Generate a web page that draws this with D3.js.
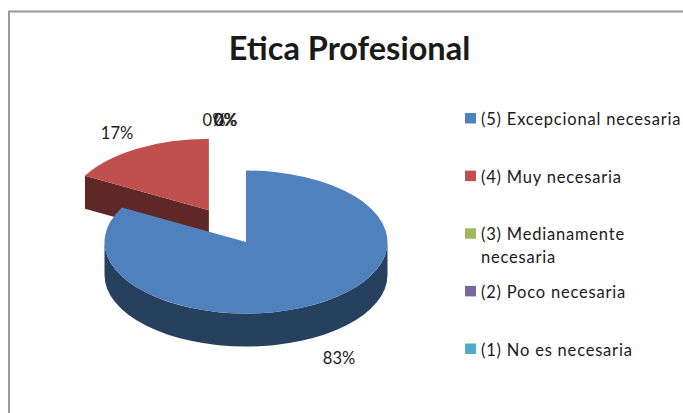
<!DOCTYPE html>
<html>
<head>
<meta charset="utf-8">
<script src="https://cdnjs.cloudflare.com/ajax/libs/d3/7.8.5/d3.min.js"></script>
<style>
html,body{margin:0;padding:0;background:#fff;}
svg{display:block;}
text{font-family:Lato,sans-serif;fill:#1a1a1a;}
</style>
</head>
<body>
<svg id="chart" width="683" height="413"></svg>
<script>
const titleText = "Etica Profesional";
const categories = ["(5) Excepcional necesaria", "(4) Muy necesaria", "(3) Medianamente necesaria", "(2) Poco necesaria", "(1) No es necesaria"];
const legendLines = [["(5) Excepcional necesaria"], ["(4) Muy necesaria"], ["(3) Medianamente", "necesaria"], ["(2) Poco necesaria"], ["(1) No es necesaria"]];
const values = [83, 17, 0, 0, 0];
const faceColors = ["#4f81bd", "#c0504d", "#9bbb59", "#8064a2", "#4bacc6"];
const wallColors = ["#274060", "#5f2725", "#4d5d2c", "#403151", "#255663"];
const explode = [0, 0.515, 0, 0, 0];
const labelPos = [[339, 364], [117, 139], [214, 126], [225, 126], [226, 126]];

const svg = d3.select("#chart");

// Chart frame: only the top and left edges fall inside the page
svg.append("path")
  .attr("d", "M683,11.5H9V413")
  .attr("fill", "none")
  .attr("stroke", "#9a9a9a")
  .attr("stroke-width", 2);

svg.append("text")
  .attr("x", 349.5).attr("y", 60)
  .attr("text-anchor", "middle")
  .attr("font-size", 32.5)
  .attr("font-weight", 700)
  .text(titleText);

// Tilted pie: circular geometry inside a group squashed vertically
const cx = 246, cy = 242, rx = 141.5, ry = 71.5, depth = 33;
const tilt = ry / rx;
const pieGen = d3.pie().sort(null)(values);
const arcGen = d3.arc().innerRadius(0).outerRadius(rx);
const pieRoot = svg.append("g").attr("transform", `translate(${cx},${cy}) scale(1,${tilt})`);
const wallDepth = depth / tilt;
const toPath = a => a - Math.PI / 2;

function outerWall(a0, a1) {
  const p = d3.path();
  p.arc(0, 0, rx, toPath(a0), toPath(a1));
  p.arc(0, wallDepth, rx, toPath(a1), toPath(a0), true);
  p.closePath();
  return p.toString();
}
function cutWall(a) {
  const x = rx * Math.sin(a), y = -rx * Math.cos(a);
  const p = d3.path();
  p.moveTo(0, 0);
  p.lineTo(x, y);
  p.lineTo(x, y + wallDepth);
  p.lineTo(0, wallDepth);
  p.closePath();
  return p.toString();
}

// Painted back to front: the pulled-out slice first, the main slice over it
const order = d3.range(values.length).reverse().filter(i => values[i] > 0);
order.forEach(i => {
  const s = pieGen[i];
  const mid = (s.startAngle + s.endAngle) / 2;
  const off = explode[i] * rx;
  const g = pieRoot.append("g")
    .attr("transform", `translate(${off * Math.sin(mid)},${-off * Math.cos(mid)})`);
  if (Math.sin(s.startAngle) < -1e-6) g.append("path").attr("d", cutWall(s.startAngle)).attr("fill", wallColors[i]);
  if (Math.sin(s.endAngle) > 1e-6) g.append("path").attr("d", cutWall(s.endAngle)).attr("fill", wallColors[i]);
  const w0 = Math.max(s.startAngle, Math.PI / 2), w1 = Math.min(s.endAngle, 3 * Math.PI / 2);
  if (w1 > w0) g.append("path").attr("d", outerWall(w0, w1)).attr("fill", wallColors[i]);
  g.append("path").attr("d", arcGen(s)).attr("fill", faceColors[i]);
});

// Percentage labels; the three empty slices pile up at the same spot
const total = d3.sum(values);
values.forEach((v, i) => {
  svg.append("text")
    .attr("x", labelPos[i][0]).attr("y", labelPos[i][1])
    .attr("text-anchor", "middle")
    .attr("font-size", 16.5)
    .text(d3.format(".0%")(v / total));
});

// Legend
const legendY = d3.scalePoint().domain(categories).range([118.5, 349]);
categories.forEach((c, i) => {
  const y = legendY(c);
  svg.append("rect")
    .attr("x", 465).attr("y", y - 5.5)
    .attr("width", 11).attr("height", 10.5)
    .attr("fill", faceColors[i]);
  legendLines[i].forEach((line, k) => {
    svg.append("text")
      .attr("x", 481).attr("y", y + 6.5 + k * 23)
      .attr("font-size", 16.5)
      .attr("letter-spacing", 0.8)
      .text(line);
  });
});
</script>
</body>
</html>
